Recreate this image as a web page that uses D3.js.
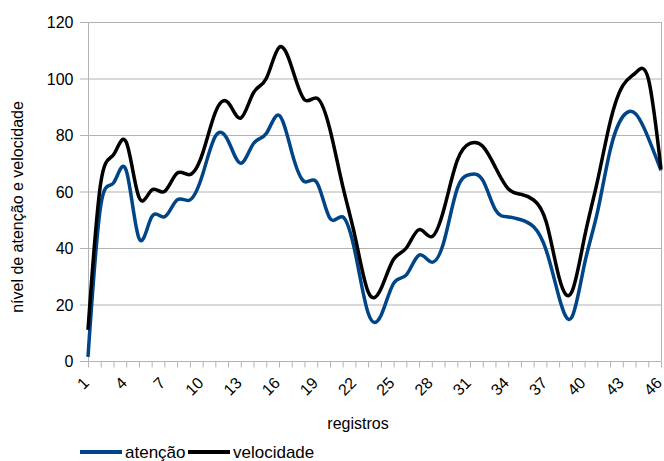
<!DOCTYPE html>
<meta charset='utf-8'>
<head>
    <title>atenção e velocidade</title>
    <script src='https://cdn.jsdelivr.net/npm/d3@7'></script>
</head>

<style>
    body { margin: 0; background: #fff; }
    text { font-family: 'Liberation Sans', Arial, sans-serif; fill: #000; }
    .grid line { stroke: #b3b3b3; stroke-width: 1px; }
    .axis path, .axis line { stroke: #b3b3b3; }
    .serie { fill: none; stroke-width: 3.5px; stroke-linejoin: round; }
</style>

<svg></svg>

<script>

    // dados
    var registros = d3.range(1, 47);
    var atencao = [1.5, 55, 63, 67.5, 43.5, 51, 51, 57, 57, 66, 79.5, 78, 70, 77, 80.5, 87,
        74, 63.5, 63, 50.5, 51, 38, 17, 16, 27.5, 30.5, 37.5, 35, 43, 61,
        66, 64, 53.5, 51, 50, 47.5, 39, 22.5, 15.5, 34.5, 52.5, 74.5, 86.5, 87.5, 79, 67.5];
    var velocidade = [11, 63, 73, 77.5, 58, 60.5, 60, 66.5, 66, 73.5, 88, 91.5, 86, 95, 100, 111,
        104, 92.5, 93, 82, 62, 43.5, 24.5, 25.5, 36, 40, 46.5, 44, 54.5, 71,
        77, 76, 68.5, 61, 59, 57, 49, 29.5, 24.5, 44, 63.5, 84.5, 97.5, 102, 100, 68];
    var yTicks = [0, 20, 40, 60, 80, 100, 120];
    var xLabels = registros.filter(function (d) { return (d - 1) % 3 === 0; });

    var vWidth = 664;
    var vHeight = 461;
    var margin = {left: 88, right: 3, top: 22, bottom: 100};

    var svg = d3.select('svg').attr('width', vWidth).attr('height', vHeight);

    var x = d3.scaleLinear().domain([1, 46]).range([margin.left, vWidth - margin.right]);
    var y = d3.scaleLinear().domain([0, 120]).range([vHeight - margin.bottom, margin.top]);

    // grade horizontal
    svg.append('g').attr('class', 'grid')
        .selectAll('line').data(yTicks).enter().append('line')
        .attr('x1', x(1) - 8).attr('x2', x(46))
        .attr('y1', function (d) { return y(d) + 0.5; })
        .attr('y2', function (d) { return y(d) + 0.5; });

    // bordas verticais
    svg.append('g').attr('class', 'grid')
        .selectAll('line').data([1, 46]).enter().append('line')
        .attr('x1', function (d) { return x(d) + 0.5; })
        .attr('x2', function (d) { return x(d) + 0.5; })
        .attr('y1', y(120)).attr('y2', y(0));

    // eixo y
    var yAxis = svg.append('g').attr('class', 'axis')
        .attr('transform', 'translate(' + (x(1) + 0.5) + ',0)')
        .call(d3.axisLeft(y).tickValues(yTicks).tickSize(0).tickPadding(15));
    yAxis.select('.domain').remove();
    yAxis.selectAll('text').style('font-size', '16px').attr('dy', '0.35em');

    // eixo x
    var xAxis = svg.append('g').attr('class', 'axis')
        .attr('transform', 'translate(0,' + (y(0) + 0.5) + ')')
        .call(d3.axisBottom(x).tickValues(registros).tickSize(6).tickFormat(''));
    xAxis.select('.domain').attr('d', 'M' + x(1) + ',0H' + x(46));

    svg.append('g').selectAll('text').data(xLabels).enter().append('text')
        .attr('transform', function (d) {
            return 'translate(' + (x(d) - 2) + ',' + (y(0) + 19) + ') rotate(-45)';
        })
        .attr('text-anchor', 'end')
        .attr('dy', '0.35em')
        .style('font-size', '16px')
        .text(function (d) { return d; });

    // títulos
    svg.append('text')
        .attr('x', 358).attr('y', 429)
        .attr('text-anchor', 'middle').style('font-size', '16px')
        .text('registros');

    svg.append('text')
        .attr('transform', 'translate(23,207) rotate(-90)')
        .attr('text-anchor', 'middle').style('font-size', '16px')
        .text('nível de atenção e velocidade');

    // linhas
    var line = d3.line()
        .x(function (d, i) { return x(registros[i]); })
        .y(function (d) { return y(d); })
        .curve(d3.curveNatural);

    svg.append('path').attr('class', 'serie').attr('stroke', '#004586').attr('d', line(atencao));
    svg.append('path').attr('class', 'serie').attr('stroke', '#000000').attr('d', line(velocidade));

    // legenda
    var legend = [{name: 'atenção', color: '#004586', x: 80}, {name: 'velocidade', color: '#000000', x: 188}];
    var lg = svg.append('g').selectAll('g').data(legend).enter().append('g')
        .attr('transform', function (d) { return 'translate(' + d.x + ',452)'; });
    lg.append('line').attr('x1', 0).attr('x2', 42).attr('y1', 0).attr('y2', 0)
        .attr('stroke', function (d) { return d.color; }).attr('stroke-width', 4);
    lg.append('text').attr('x', 45).attr('dy', '0.35em').style('font-size', '17px')
        .text(function (d) { return d.name; });
</script>
